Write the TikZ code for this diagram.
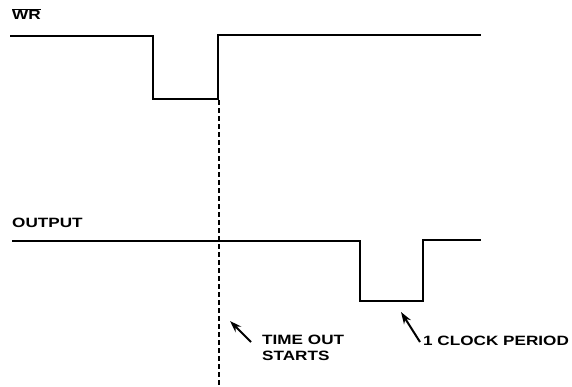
\documentclass[tikz,border=0pt]{standalone}
\usepackage{fontspec}
\setmainfont{Liberation Sans}
\newfontfamily\widesans[FakeStretch=1.27]{Liberation Sans}
\usetikzlibrary{arrows.meta,positioning}
\begin{document}
\begin{tikzpicture}[
    x=1pt, y=-1pt,
    wave/.style={line width=2.4pt, line join=miter},
    marker/.style={line width=2.4pt, dash pattern=on 5pt off 3pt},
    lbl/.style={font=\widesans\bfseries\fontsize{13.5}{16.5}\selectfont, inner sep=0pt, anchor=west},
    pointer/.style={line width=2pt, -{Stealth[length=12pt,width=8pt]}}
]
  \useasboundingbox (0,0) rectangle (572,386);
  % signal names
  \node[lbl] (wr) at (12,14) {$\overline{\mbox{WR}}$};
  \node[lbl] (out) at (12,223) {OUTPUT};
  % write strobe
  \draw[wave] (10,36) coordinate (wr0) -- (153,36) -- (153,99) -- (218,99)
    -- (218,35) coordinate (wrup) -- (481,35);
  % output pulse
  \draw[wave] (12,241) -- (360,241) -- (360,301) -- (423,301)
    -- (423,240) -- (481,240);
  % time out marker
  \coordinate (mtop) at (219,100);
  \coordinate (mbot) at (219,386);
  \draw[marker] (mtop) -- (mbot);
  % annotations
  \node[lbl, align=left] (tmo) at (262,348) {TIME OUT\\STARTS};
  \node[lbl] (clk) at (423,341) {1 CLOCK PERIOD};
  \coordinate (tmohead) at (230,321);
  \coordinate (tmotail) at (251,342);
  \coordinate (clkhead) at (401,312);
  \coordinate (clktail) at (420,342);
  \draw[pointer] (tmotail) -- (tmohead);
  \draw[pointer] (clktail) -- (clkhead);
\end{tikzpicture}
\end{document}
